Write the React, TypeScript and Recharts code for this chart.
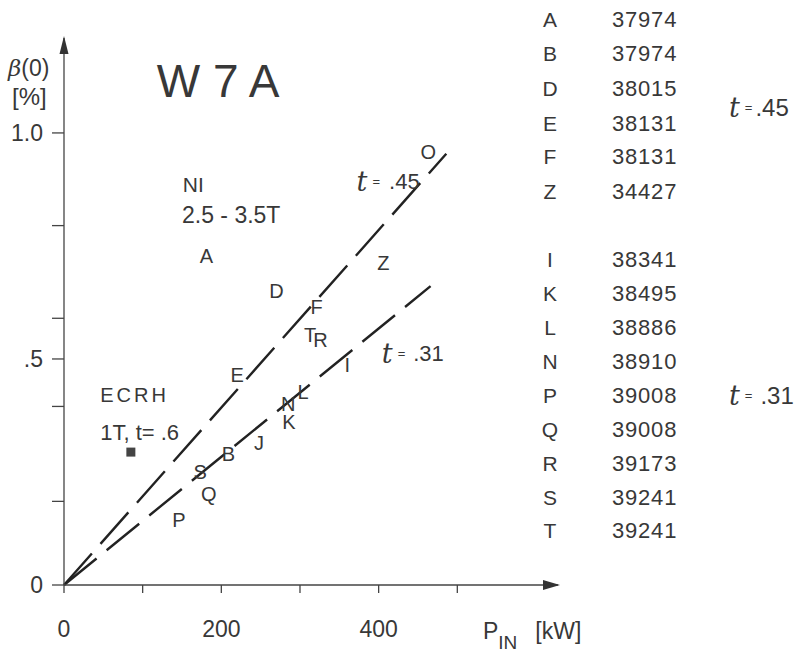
import React from 'react'
import { ScatterChart, Scatter, XAxis, YAxis, ReferenceLine, ReferenceDot } from 'recharts'

// discharge letters and their position (P_IN in kW, beta(0) in %)
const shotLabels = ['O', 'Z', 'A', 'D', 'F', 'T', 'R', 'E', 'I', 'N', 'L', 'K', 'J', 'B', 'S', 'Q', 'P']
const shotPower = [463, 406, 181, 270, 321, 313, 326, 220, 360, 285, 304, 286, 248, 209, 173, 184, 146]
const shotBeta = [0.958, 0.712, 0.728, 0.65, 0.615, 0.553, 0.542, 0.465, 0.487, 0.4, 0.427, 0.361, 0.314, 0.29, 0.25, 0.201, 0.144]

// ECRH point
const ecrhPower = [85]
const ecrhBeta = [0.294]

// the two fitted lines (t = .45 and t = .31)
const line45 = [{ x: 0, y: 0 }, { x: 486, y: 0.954 }]
const line31 = [{ x: 0, y: 0 }, { x: 466, y: 0.661 }]

const xTicks = [0, 100, 200, 300, 400, 500]
const yTicks = [0, 0.185, 0.395, 0.5, 0.59, 0.795, 1.0]

// shot table on the right
const tableLetters = ['A', 'B', 'D', 'E', 'F', 'Z', 'I', 'K', 'L', 'N', 'P', 'Q', 'R', 'S', 'T']
const tableShots = ['37974', '37974', '38015', '38131', '38131', '34427', '38341', '38495', '38886', '38910', '39008', '39008', '39173', '39241', '39241']
const tableRowY = [20, 54, 89, 124, 157, 192, 260, 294, 328, 362, 396, 430, 464, 498, 531]

const points = shotLabels.map((label, i) => ({ label, p: shotPower[i], b: shotBeta[i] }))
const ecrh = ecrhPower.map((p, i) => ({ p, b: ecrhBeta[i] }))

const FONT = '"Liberation Sans", Arial, Helvetica, sans-serif'
const INK = '#383838'

const LetterShape = (props: any) => (
  <text
    x={props.cx}
    y={props.cy}
    textAnchor="middle"
    dominantBaseline="central"
    fontFamily={FONT}
    fontSize={20}
    fill={INK}
  >
    {props.payload.label}
  </text>
)

const SquareShape = (props: any) => (
  <rect x={props.cx - 4.5} y={props.cy - 4.5} width={9} height={9} fill="#444" />
)

const Tee = ({ value, gap = 5 }: { value: string; gap?: number }) => (
  <>
    <tspan fontFamily='"DejaVu Serif", serif' fontStyle="italic" fontSize={27}>t</tspan>
    <tspan fontSize={13} dx={5}>=</tspan>
    <tspan dx={gap}>{value}</tspan>
  </>
)

const textAt = (content: React.ReactNode, anchor: string, size: number, extra: any = {}) => (props: any) => (
  <text
    x={props.cx}
    y={props.cy}
    textAnchor={anchor}
    dominantBaseline="central"
    fontFamily={FONT}
    fontSize={size}
    fill={INK}
    {...extra}
  >
    {content}
  </text>
)

const arrowUp = (props: any) => (
  <path d={`M${props.cx},${props.cy - 2} L${props.cx - 4.5},${props.cy + 16} L${props.cx + 4.5},${props.cy + 16} Z`} fill="#333" />
)
const arrowRight = (props: any) => (
  <path d={`M${props.cx + 2},${props.cy} L${props.cx - 15},${props.cy - 5} L${props.cx - 15},${props.cy + 5} Z`} fill="#333" />
)

export default function App() {
  return (
    <div style={{ position: 'absolute', left: 0, top: 0, width: 805, height: 656, background: '#fff', fontFamily: FONT, color: INK }}>
      <ScatterChart width={805} height={656} margin={{ top: 38, right: 247, bottom: 0, left: 0 }}>
        <XAxis
          type="number"
          dataKey="p"
          domain={[0, 628]}
          ticks={xTicks}
          tickFormatter={(v: number) => (v % 200 === 0 ? String(v) : '')}
          tickSize={8}
          tickMargin={28}
          height={71}
          stroke="#444"
          strokeWidth={1.3}
          tick={{ fill: INK, fontSize: 23, fontFamily: FONT }}
          allowDataOverflow
        />
        <YAxis
          type="number"
          dataKey="b"
          domain={[0, 1.21]}
          ticks={yTicks}
          tickFormatter={(v: number) => (v === 0 ? '0' : v === 0.5 ? '.5' : v === 1 ? '1.0' : '')}
          tickSize={12}
          tickMargin={9}
          width={64}
          stroke="#444"
          strokeWidth={1.3}
          tick={{ fill: INK, fontSize: 23, fontFamily: FONT }}
          allowDataOverflow
        />
        <ReferenceLine segment={line45} stroke="#222" strokeWidth={2.4} strokeDasharray="42 13" ifOverflow="visible" />
        <ReferenceLine segment={line31} stroke="#222" strokeWidth={2.4} strokeDasharray="42 13" ifOverflow="visible" />
        <Scatter data={points} shape={LetterShape} isAnimationActive={false} />
        <Scatter data={ecrh} shape={SquareShape} isAnimationActive={false} />

        <ReferenceDot x={196} y={1.115} ifOverflow="visible" shape={textAt('W 7 A', 'middle', 46)} />
        <ReferenceDot x={151} y={0.885} ifOverflow="visible" shape={textAt('NI', 'start', 21)} />
        <ReferenceDot x={150} y={0.819} ifOverflow="visible" shape={textAt('2.5 - 3.5T', 'start', 23)} />
        <ReferenceDot x={46} y={0.42} ifOverflow="visible" shape={textAt('ECRH', 'start', 20, { letterSpacing: 3 })} />
        <ReferenceDot x={46} y={0.338} ifOverflow="visible" shape={textAt('1T, t= .6', 'start', 22)} />
        <ReferenceDot x={372} y={0.893} ifOverflow="visible" shape={textAt(<Tee value=".45" gap={9} />, 'start', 22)} />
        <ReferenceDot x={404} y={0.513} ifOverflow="visible" shape={textAt(<Tee value=".31" gap={8} />, 'start', 22)} />

        <ReferenceDot x={0} y={1.21} ifOverflow="visible" shape={arrowUp} />
        <ReferenceDot x={628} y={0} ifOverflow="visible" shape={arrowRight} />
      </ScatterChart>

      <div style={{ position: 'absolute', left: 8, top: 55, fontSize: 23, fontStyle: 'normal' }}>
        <span style={{ fontFamily: '"DejaVu Serif", serif', fontStyle: 'italic' }}>β</span>(0)
      </div>
      <div style={{ position: 'absolute', left: 12, top: 83, fontSize: 24 }}>[%]</div>

      <div style={{ position: 'absolute', left: 483, top: 618, fontSize: 23, whiteSpace: 'nowrap' }}>
        P<span style={{ fontSize: 19, position: 'relative', top: 10 }}>IN</span>
        <span style={{ marginLeft: 18 }}>[kW]</span>
      </div>

      {tableLetters.map((l, i) => (
        <React.Fragment key={i}>
          <div style={{ position: 'absolute', left: 550, top: tableRowY[i] - 13, width: 0, fontSize: 21, lineHeight: '26px', display: 'flex', justifyContent: 'center' }}>
            <span>{l}</span>
          </div>
          <div style={{ position: 'absolute', left: 612, top: tableRowY[i] - 13, fontSize: 22, letterSpacing: 0.8, lineHeight: '26px' }}>{tableShots[i]}</div>
        </React.Fragment>
      ))}

      <svg style={{ position: 'absolute', left: 0, top: 0 }} width={805} height={656}>
        <text x={729} y={107} dominantBaseline="central" fontFamily={FONT} fontSize={24} fill={INK}><Tee value=".45" gap={3} /></text>
        <text x={729} y={395} dominantBaseline="central" fontFamily={FONT} fontSize={24} fill={INK}><Tee value=".31" gap={8} /></text>
      </svg>
    </div>
  )
}
